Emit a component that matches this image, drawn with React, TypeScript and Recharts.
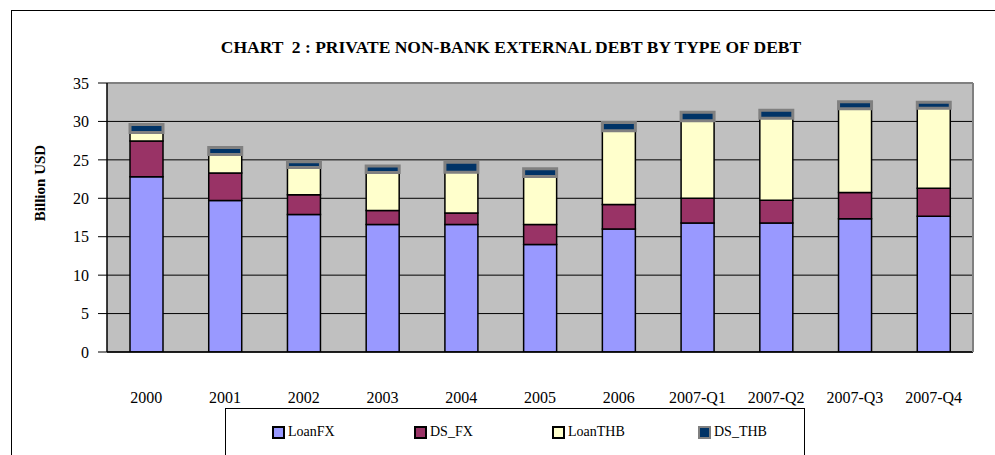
import {
    Bar,
    BarChart,
    CartesianGrid,
    Customized,
    Legend,
    ReferenceLine,
    XAxis,
    YAxis,
} from "recharts";

const periods = [
    "2000",
    "2001",
    "2002",
    "2003",
    "2004",
    "2005",
    "2006",
    "2007-Q1",
    "2007-Q2",
    "2007-Q3",
    "2007-Q4",
];
const loanFX = [22.8, 19.7, 17.9, 16.6, 16.6, 14.0, 16.0, 16.8, 16.8, 17.35, 17.65];
const dsFX = [4.65, 3.6, 2.55, 1.8, 1.5, 2.6, 3.2, 3.2, 2.95, 3.4, 3.65];
const loanTHB = [1.1, 2.4, 3.55, 4.95, 5.3, 6.25, 9.6, 10.1, 10.65, 10.9, 10.4];
const dsTHB = [1.05, 0.9, 0.75, 0.85, 1.3, 1.0, 1.05, 1.1, 1.05, 0.9, 0.8];
const yTicks = [0, 5, 10, 15, 20, 25, 30, 35];

const TITLE = "CHART  2 : PRIVATE NON-BANK EXTERNAL DEBT BY TYPE OF DEBT";
const FONT = '"Liberation Serif", "Times New Roman", serif';

const data = periods.map((p, i) => ({
    period: p,
    LoanFX: loanFX[i],
    DS_FX: dsFX[i],
    LoanTHB: loanTHB[i],
    DS_THB: dsTHB[i],
}));

// tick marks sit on the category boundaries, not the centres
const edgeTicks = periods.map((_, i) => i).concat(periods.length);

const series = [
    { key: "LoanFX", fill: "#9999FF", stroke: "#000000", width: 1.5, legendX: 46 },
    { key: "DS_FX", fill: "#993366", stroke: "#000000", width: 1.5, legendX: 188 },
    { key: "LoanTHB", fill: "#FFFFCC", stroke: "#000000", width: 1.5, legendX: 326 },
    { key: "DS_THB", fill: "#003366", stroke: "#808080", width: 3, legendX: 472 },
];

function LegendBox() {
    return (
        <div style={{ position: "relative", width: "100%", height: "100%" }}>
            {series.map((s) => (
                <div
                    key={s.key}
                    style={{
                        position: "absolute",
                        left: s.legendX,
                        top: 15,
                        display: "flex",
                        alignItems: "center",
                        fontFamily: FONT,
                        fontSize: 14,
                        color: "#000",
                    }}
                >
                    <span
                        style={{
                            display: "inline-block",
                            width: 9,
                            height: 9,
                            background: s.fill,
                            border: `2px solid ${s.stroke}`,
                        }}
                    />
                    <span style={{ marginLeft: 3 }}>{s.key}</span>
                </div>
            ))}
        </div>
    );
}

function App() {
    return (
        <div
            style={{
                position: "absolute",
                left: 0,
                top: 0,
                width: 995,
                height: 455,
                overflow: "hidden",
                background: "#fff",
            }}
        >
            <div
                style={{
                    position: "absolute",
                    left: 11,
                    top: 10,
                    width: 1100,
                    height: 600,
                    border: "1.5px solid #000",
                }}
            />
            <BarChart
                width={995}
                height={455}
                data={data}
                margin={{ top: 83, right: 21, left: 47, bottom: 43 }}
                barSize={33}
                style={{ position: "absolute", left: 0, top: 0 }}
            >
                <CartesianGrid
                    vertical={false}
                    stroke="#000"
                    strokeWidth={1}
                    fill="#C0C0C0"
                    fillOpacity={1}
                />
                <XAxis
                    dataKey="period"
                    height={60}
                    tickLine={false}
                    tickSize={0}
                    tickMargin={40}
                    axisLine={{ stroke: "#000", strokeWidth: 1.5 }}
                    tick={{ fontSize: 16, fill: "#000", fontFamily: FONT }}
                    interval={0}
                />
                <XAxis
                    xAxisId="edges"
                    type="number"
                    domain={[0, periods.length]}
                    ticks={edgeTicks}
                    allowDataOverflow
                    height={0}
                    tick={false}
                    axisLine={false}
                    tickSize={8}
                    tickLine={{ stroke: "#333", strokeWidth: 1 }}
                />
                <YAxis
                    domain={[0, 35]}
                    ticks={yTicks}
                    width={60}
                    tickSize={9}
                    tickMargin={9}
                    axisLine={{ stroke: "#000", strokeWidth: 1.5 }}
                    tickLine={{ stroke: "#000" }}
                    tick={{ fontSize: 16, fill: "#000", fontFamily: FONT }}
                    allowDataOverflow
                />
                <YAxis
                    yAxisId="frame"
                    orientation="right"
                    width={1}
                    tick={false}
                    tickLine={false}
                    axisLine={{ stroke: "#808080", strokeWidth: 2 }}
                />
                <ReferenceLine y={35} stroke="#808080" strokeWidth={2} />
                {series.map((s) => (
                    <Bar
                        key={s.key}
                        dataKey={s.key}
                        stackId="debt"
                        fill={s.fill}
                        stroke={s.stroke}
                        strokeWidth={s.width}
                        isAnimationActive={false}
                    />
                ))}
                <Legend
                    layout="horizontal"
                    verticalAlign="middle"
                    align="center"
                    content={() => <LegendBox />}
                    wrapperStyle={{
                        left: 225,
                        top: 408,
                        width: 580,
                        height: 80,
                        border: "1.5px solid #000",
                        boxSizing: "border-box",
                        background: "#fff",
                    }}
                />
                <Customized
                    component={() => (
                        <g>
                            <text
                                x={511}
                                y={47}
                                textAnchor="middle"
                                dominantBaseline="central"
                                fontFamily={FONT}
                                fontWeight="bold"
                                fontSize={17.5}
                                fill="#000"
                                style={{ whiteSpace: "pre" }}
                            >
                                {TITLE}
                            </text>
                            <text
                                x={40}
                                y={183}
                                textAnchor="middle"
                                dominantBaseline="central"
                                transform="rotate(-90 40 183)"
                                fontFamily={FONT}
                                fontWeight="bold"
                                fontSize={15}
                                fill="#000"
                            >
                                Billion USD
                            </text>
                        </g>
                    )}
                />
            </BarChart>
        </div>
    );
}

export default App;
